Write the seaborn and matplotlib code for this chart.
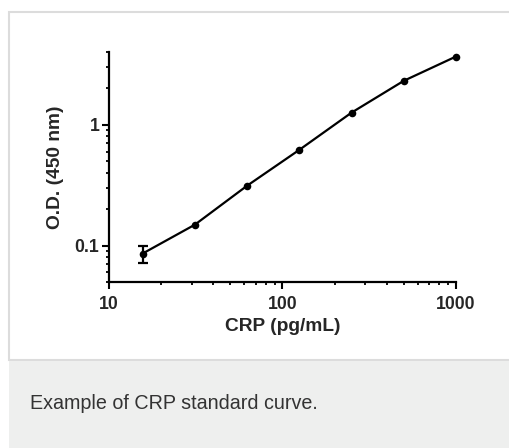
import matplotlib
matplotlib.use("Agg")
import matplotlib.pyplot as plt
import matplotlib.ticker as mticker
from matplotlib.patches import Rectangle
import seaborn as sns
import pandas as pd

# ---- data ----
conc = [15.625, 31.25, 62.5, 125, 250, 500, 1000]
od = [0.086, 0.149, 0.313, 0.62, 1.26, 2.31, 3.67]
err_conc = [15.625]
err_od = [0.086]
err_low = [0.014]
err_high = [0.014]
x_ticks = [10, 100, 1000]
x_ticklabels = ["10", "100", "1000"]
y_ticks = [0.1, 1]
y_ticklabels = ["0.1", "1"]
x_label = "CRP (pg/mL)"
y_label = "O.D. (450 nm)"
caption = "Example of CRP standard curve."

df = pd.DataFrame({"conc": conc, "od": od})

sns.set_theme(style="ticks")
plt.rcParams["font.family"] = ["Liberation Sans", "DejaVu Sans"]

fig = plt.figure(figsize=(5.10, 4.48), dpi=100)
W, H = 510, 448
# white panel with light border
fig.patches.append(Rectangle((9.5 / W, 1 - 360 / H), (W - 9.5) / W + 0.01, (360 - 12) / H,
                             transform=fig.transFigure, facecolor="white",
                             edgecolor="#dcdcdc", linewidth=1.5, zorder=-10))
# grey caption panel
fig.patches.append(Rectangle((9.5 / W, 0), (W - 9.5) / W + 0.01, (448 - 361) / H,
                             transform=fig.transFigure, facecolor="#eeefee",
                             edgecolor="none", zorder=-10))
fig.text(30 / W, 1 - 403 / H, caption, fontsize=14.2, color="#333333",
         ha="left", va="center")

ax = fig.add_axes([109 / W, 1 - 282 / H, (456 - 109) / W, (282 - 52) / H])
ax.set_zorder(5)
ax.set_facecolor("none")

sns.lineplot(data=df, x="conc", y="od", ax=ax, color="black", linewidth=1.6,
             legend=False)
sns.scatterplot(data=df, x="conc", y="od", ax=ax, color="black", s=30,
                edgecolor="black", linewidth=0, zorder=5, legend=False,
                clip_on=False)
ax.errorbar(err_conc, err_od, yerr=[err_low, err_high], fmt="none",
            ecolor="black", elinewidth=1.6, capsize=3.5, capthick=1.6, zorder=4)

ax.set_xscale("log")
ax.set_yscale("log")
ax.set_xlim(10, 1000)
ax.set_ylim(0.05, 4)

ax.xaxis.set_major_locator(mticker.FixedLocator(x_ticks))
ax.xaxis.set_major_formatter(mticker.FixedFormatter(x_ticklabels))
ax.xaxis.set_minor_locator(mticker.LogLocator(base=10, subs=range(2, 10)))
ax.xaxis.set_minor_formatter(mticker.NullFormatter())
ax.yaxis.set_major_locator(mticker.FixedLocator(y_ticks))
ax.yaxis.set_major_formatter(mticker.FixedFormatter(y_ticklabels))
ax.yaxis.set_minor_locator(mticker.LogLocator(base=10, subs=range(2, 10)))
ax.yaxis.set_minor_formatter(mticker.NullFormatter())

for s in ["top", "right"]:
    ax.spines[s].set_visible(False)
for s in ["left", "bottom"]:
    ax.spines[s].set_linewidth(1.6)
    ax.spines[s].set_color("black")

ax.tick_params(which="major", direction="out", length=5, width=1.5,
               color="black", labelsize=12.7, pad=5)
ax.tick_params(axis="y", which="major", pad=2)
ax.tick_params(which="minor", direction="out", length=2.5, width=1.3,
               color="black")
for lbl in ax.get_xticklabels() + ax.get_yticklabels():
    lbl.set_fontweight("bold")

ax.set_xlabel(x_label, fontsize=13.8, fontweight="bold", labelpad=4)
ax.set_ylabel(y_label, fontsize=13.8, fontweight="bold", labelpad=7.5)

fig.savefig("out.png", dpi=100)
